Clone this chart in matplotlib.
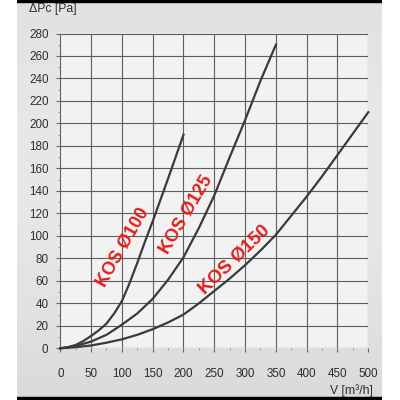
import numpy as np
import matplotlib.pyplot as plt
from matplotlib.patches import Rectangle

plt.rcParams['font.family'] = ['Liberation Sans', 'DejaVu Sans']

# curves: V [m3/h] -> pressure drop [Pa]
v100 = [0, 12.5, 25, 37.5, 50, 62.5, 75, 87.5, 100, 112.5, 125, 137.5, 150, 175, 200]
p100 = [0, 1, 3, 6.5, 11, 16, 22, 31, 42, 58, 76, 95, 113, 151, 190]

v125 = [0, 25, 50, 75, 100, 125, 150, 175, 200, 225, 250, 275, 300, 325, 350]
p125 = [0, 2, 6, 12, 21, 31, 44, 61, 81, 107, 136, 170, 203, 238, 270]

v150 = [0, 25, 50, 75, 100, 125, 150, 175, 200, 225, 250,
        275, 300, 325, 350, 375, 400, 425, 450, 475, 500]
p150 = [0, 1, 2.5, 5, 8, 12, 17, 23, 30, 40, 51,
        62, 74, 87, 101, 118, 135, 153, 172, 191, 210]

names = ['KOS Ø100', 'KOS Ø125', 'KOS Ø150']
xticks = list(range(0, 501, 50))
yticks = list(range(0, 281, 20))

fig = plt.figure(figsize=(4, 4), dpi=100)
fig.patch.set_facecolor('white')

# gray panel behind the chart with black bars top and bottom
bg = fig.add_axes([17 / 400, 0, 365 / 400, 1])
grad = np.linspace(0, 1, 200).reshape(-1, 1)
shade = 0.88 + 0.04 * np.sin(grad * np.pi) - 0.03 * grad
bg.imshow(shade, cmap='gray', vmin=0, vmax=1, aspect='auto',
          extent=[0, 1, 0, 1], origin='upper')
bg.add_patch(Rectangle((0, 0.9962), 1, 0.01, color='black'))
bg.add_patch(Rectangle((0, 0), 1, 0.0075, color='black'))
bg.set_xlim(0, 1)
bg.set_ylim(0, 1)
bg.axis('off')

ax = fig.add_axes([60.3 / 400, 51.7 / 400, 308 / 400, 314.8 / 400])
ax.set_facecolor('#f2f2f2')
ax.set_xlim(0, 500)
ax.set_ylim(0, 280)
ax.set_xticks(xticks)
ax.set_yticks(yticks)
ax.set_xticks(range(25, 500, 50), minor=True)
ax.set_yticks(range(10, 280, 20), minor=True)
ax.grid(which='major', color='#5e5e5e', lw=0.8)
for s in ax.spines.values():
    s.set_visible(False)
ax.tick_params(which='major', length=3, color='#666666', labelsize=8.4,
               labelcolor='#2e2e2e')
ax.tick_params(axis='x', which='major', pad=11)
ax.tick_params(axis='y', which='major', pad=5.5)
ax.tick_params(which='minor', length=1.5, color='#888888')

lc = '#3a3a3a'
ax.plot(v100, p100, color=lc, lw=1.6, clip_on=False)
ax.plot(v125, p125, color=lc, lw=1.6, clip_on=False)
ax.plot(v150, p150, color=lc, lw=1.6, clip_on=False)

red = '#e0201c'
ax.text(102, 90, names[0], color=red, fontsize=13, fontweight='bold',
        rotation=60, ha='center', va='center', rotation_mode='anchor')
ax.text(204, 119, names[1], color=red, fontsize=13, fontweight='bold',
        rotation=59.5, ha='center', va='center', rotation_mode='anchor')
ax.text(283, 79, names[2], color=red, fontsize=13.5, fontweight='bold',
        rotation=44, ha='center', va='center', rotation_mode='anchor')

fig.text(29 / 400, 1 - 8.7 / 400, 'ΔPc [Pa]', fontsize=8.8, color='#2e2e2e',
         ha='left', va='center')
fig.text(373 / 400, 1 - 391 / 400, 'V [m³/h]', fontsize=8.8, color='#2e2e2e',
         ha='right', va='center')

fig.savefig('out.png', dpi=100)
